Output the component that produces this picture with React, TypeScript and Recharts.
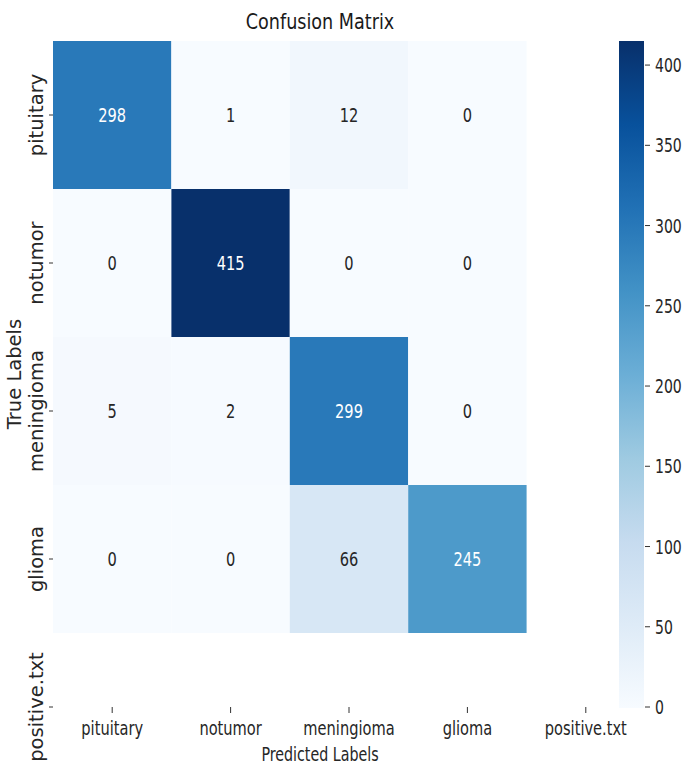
import React from 'react';
import * as R from 'recharts';
import { ScatterChart, Scatter, XAxis, YAxis, ReferenceArea } from 'recharts';

// ---------- data ----------
const predictedLabels = ['pituitary', 'notumor', 'meningioma', 'glioma', 'positive.txt'];
const trueLabels = ['pituitary', 'notumor', 'meningioma', 'glioma', 'positive.txt'];
const pituitaryRow = [298, 1, 12, 0];
const notumorRow = [0, 415, 0, 0];
const meningiomaRow = [5, 2, 299, 0];
const gliomaRow = [0, 0, 66, 245];
const matrixRows = [pituitaryRow, notumorRow, meningiomaRow, gliomaRow];
const colorbarTicks = [0, 50, 100, 150, 200, 250, 300, 350, 400];
const vmin = 0;
const vmax = 415;

// matplotlib "Blues"
const bluesStops = ['#f7fbff', '#deebf7', '#c6dbef', '#9ecae1', '#6baed6', '#4292c6', '#2171b5', '#08519c', '#08306b'];

const hexToRgb = (h: string) => [parseInt(h.slice(1, 3), 16), parseInt(h.slice(3, 5), 16), parseInt(h.slice(5, 7), 16)];
const blues = (v: number) => {
  const t = Math.max(0, Math.min(1, (v - vmin) / (vmax - vmin)));
  const pos = t * (bluesStops.length - 1);
  const i = Math.min(Math.floor(pos), bluesStops.length - 2);
  const f = pos - i;
  const a = hexToRgb(bluesStops[i]);
  const b = hexToRgb(bluesStops[i + 1]);
  const c = a.map((x, k) => Math.round(x + (b[k] - x) * f));
  return `rgb(${c[0]},${c[1]},${c[2]})`;
};
const textColorFor = (v: number) => {
  const t = (v - vmin) / (vmax - vmin);
  return t > 0.45 ? '#ffffff' : '#262626';
};

const cells = matrixRows.flatMap((row, r) => row.map((v, c) => ({ x: c, y: r, v })));

const FONT = '"DejaVu Sans", Verdana, sans-serif';
const TXT = '#262626';

const XTick = (props: any) => {
  const { x, y, payload } = props;
  return (
    <text transform={`translate(${x},${y + 22}) scale(0.75,1)`} textAnchor="middle" fontFamily={FONT} fontSize={19.5} fill={TXT}>
      {predictedLabels[payload.value]}
    </text>
  );
};

const YTick = (props: any) => {
  const { x, y, payload } = props;
  return (
    <text transform={`translate(${x - 6},${y}) rotate(-90)`} textAnchor="middle" fontFamily={FONT} fontSize={19.5} fill={TXT}>
      {trueLabels[payload.value]}
    </text>
  );
};

const CbTick = (props: any) => {
  const { x, y, payload } = props;
  return (
    <text transform={`translate(${x + 5},${y}) scale(0.72,1)`} dy="0.36em" textAnchor="start" fontFamily={FONT} fontSize={19.5} fill={TXT}>
      {payload.value}
    </text>
  );
};

const CellLabel = (props: any) => {
  const { cx, cy, payload } = props;
  if (cx == null || cy == null) return null;
  return (
    <text transform={`translate(${cx},${cy}) scale(0.75,1)`} dy="0.36em" textAnchor="middle" fontFamily={FONT} fontSize={19.5} fill={textColorFor(payload.v)}>
      {payload.v}
    </text>
  );
};

const usePA: any = (R as any).usePlotArea ?? (() => null);

const ColorBar = () => {
  const pa = usePA();
  const area = pa ?? { x: 53, y: 41, width: 592, height: 666 };
  const w = 25;
  return (
    <g>
      <defs>
        <linearGradient id="bluesGrad" x1="0" y1="1" x2="0" y2="0">
          {bluesStops.map((c, i) => (
            <stop key={i} offset={`${(i / (bluesStops.length - 1)) * 100}%`} stopColor={c} />
          ))}
        </linearGradient>
      </defs>
      <rect x={area.x + area.width - w - 1} y={area.y} width={w} height={area.height + 1} fill="url(#bluesGrad)" />
    </g>
  );
};

const Texts = () => (
  <g>
    <text transform="translate(320,29) scale(0.8,1)" textAnchor="middle" fontFamily={FONT} fontSize={22} fill="#1a1a1a">
      Confusion Matrix
    </text>
    <text transform="translate(320,761) scale(0.75,1)" textAnchor="middle" fontFamily={FONT} fontSize={19} fill={TXT}>
      Predicted Labels
    </text>
    <text transform="translate(21,374) rotate(-90)" textAnchor="middle" fontFamily={FONT} fontSize={19.5} fill={TXT}>
      True Labels
    </text>
  </g>
);

export default function App() {
  return (
    <div style={{ position: 'absolute', left: 0, top: 0, width: 684, height: 767, background: '#ffffff' }}>
      <ScatterChart width={684} height={767} margin={{ top: 41, right: 0, bottom: 0, left: 0 }}>
        <XAxis
          type="number"
          dataKey="x"
          domain={[-0.5, 4.5]}
          allowDataOverflow
          ticks={[0, 1, 2, 3, 4]}
          interval={0}
          height={60}
          axisLine={false}
          tickLine={{ stroke: '#333333', strokeWidth: 1 }}
          tickSize={6}
          tickMargin={0}
          tick={<XTick />}
        />
        <YAxis
          yAxisId="m"
          type="number"
          dataKey="y"
          domain={[-0.5, 4]}
          allowDataOverflow
          reversed
          ticks={[0, 1, 2, 3, 4]}
          interval={0}
          width={53}
          axisLine={false}
          tickLine={{ stroke: '#333333', strokeWidth: 1 }}
          tickSize={4}
          tickMargin={0}
          tick={<YTick />}
        />
        <YAxis
          yAxisId="cb"
          orientation="right"
          type="number"
          domain={[vmin, vmax]}
          allowDataOverflow
          ticks={colorbarTicks}
          interval={0}
          width={39}
          axisLine={false}
          tickLine={{ stroke: '#333333', strokeWidth: 1 }}
          tickSize={5}
          tickMargin={0}
          tick={<CbTick />}
        />
        {cells.map((c) => (
          <ReferenceArea
            key={`${c.x}-${c.y}`}
            yAxisId="m"
            x1={c.x - 0.5}
            x2={c.x + 0.5}
            y1={c.y - 0.5}
            y2={c.y + 0.5}
            fill={blues(c.v)}
            fillOpacity={1}
            stroke="none"
            ifOverflow="visible"
          />
        ))}
        <ColorBar />
        <Scatter yAxisId="m" data={cells} dataKey="y" isAnimationActive={false} shape={<CellLabel />} />
        <Texts />
      </ScatterChart>
    </div>
  );
}
